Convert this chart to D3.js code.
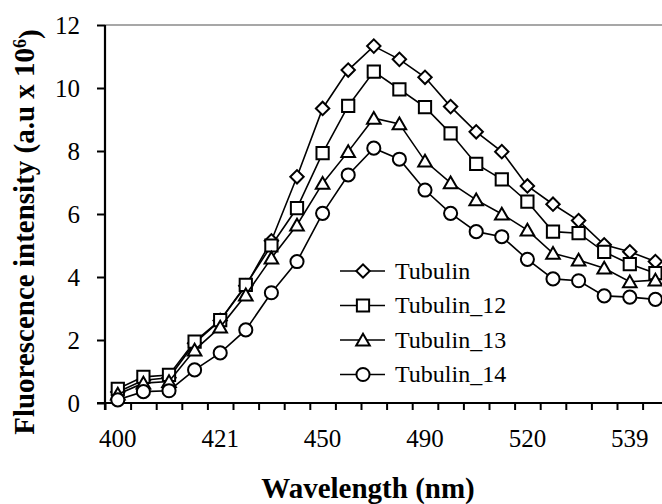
<!DOCTYPE html>
<html>
<head>
<meta charset="utf-8">
<style>
    body { margin: 0; background: #fff; }
    svg { display: block; }
    text { font-family: "Liberation Serif", "Times New Roman", serif; fill: #000; }
</style>
</head>
<body>

<script src="https://d3js.org/d3.v7.min.js"></script>
<script>

    // wavelengths (nm); only every 4th one is labelled on the axis
    var wavelengths = [400, 405, 411, 416, 421, 428, 435, 443, 450, 460, 470, 480,
                       490, 498, 505, 513, 520, 525, 530, 535, 539, 544];
    var labelEvery = 4;

    var tubulin   = [0.35, 0.72, 0.80, 1.90, 2.62, 3.72, 5.15, 7.18, 9.35, 10.57, 11.33, 10.91,
                     10.34, 9.41, 8.61, 7.98, 6.89, 6.31, 5.79, 5.02, 4.80, 4.49];
    var tubulin12 = [0.45, 0.83, 0.89, 1.95, 2.63, 3.75, 5.00, 6.19, 7.93, 9.43, 10.52, 9.96,
                     9.39, 8.56, 7.59, 7.10, 6.39, 5.44, 5.39, 4.80, 4.41, 4.12];
    var tubulin13 = [0.28, 0.63, 0.68, 1.68, 2.41, 3.43, 4.60, 5.65, 6.97, 7.98, 9.04, 8.86,
                     7.68, 6.99, 6.45, 6.00, 5.49, 4.75, 4.54, 4.28, 3.85, 3.90];
    var tubulin14 = [0.10, 0.36, 0.39, 1.05, 1.59, 2.32, 3.50, 4.49, 6.02, 7.24, 8.09, 7.74,
                     6.76, 6.02, 5.44, 5.28, 4.56, 3.94, 3.88, 3.40, 3.36, 3.29];

    var seriesNames = ["Tubulin", "Tubulin_12", "Tubulin_13", "Tubulin_14"];
    var yTicks = [0, 2, 4, 6, 8, 10, 12];

    var series = [
        {name: seriesNames[0], values: tubulin,   shape: "diamond"},
        {name: seriesNames[1], values: tubulin12, shape: "square"},
        {name: seriesNames[2], values: tubulin13, shape: "triangle"},
        {name: seriesNames[3], values: tubulin14, shape: "circle"}
    ];

    var width = 662,
        height = 504;

    var plotLeft = 105, plotTop = 25, plotBottom = 403,
        step = 25.6,
        n = wavelengths.length;

    var svg = d3.select("body").append("svg").attr("width", width).attr("height", height);

    var x = d3.scaleBand().domain(wavelengths).range([plotLeft, plotLeft + n * step]).paddingInner(0).paddingOuter(0);
    var xEdge = d3.scaleLinear().domain([0, n]).range([plotLeft, plotLeft + n * step]);
    var y = d3.scaleLinear().domain([0, 12]).range([plotBottom, plotTop]);

    function cx(i) { return x(wavelengths[i]) + x.bandwidth() / 2; }

    // top border of plot area
    svg.append("line")
        .attr("x1", plotLeft).attr("x2", width)
        .attr("y1", y(12)).attr("y2", y(12))
        .attr("stroke", "#8a8a8a").attr("stroke-width", 1.5);

    // x axis: ticks between categories
    var gx = svg.append("g").attr("transform", "translate(0," + plotBottom + ")")
        .call(d3.axisBottom(xEdge).tickValues(d3.range(n + 1)).tickSize(7).tickFormat(""));
    gx.select(".domain").remove();
    gx.selectAll(".tick line").attr("stroke", "#000").attr("stroke-width", 2);
    gx.append("line").attr("x1", 97).attr("x2", width).attr("stroke", "#000").attr("stroke-width", 2.2);

    var gxl = svg.append("g").attr("transform", "translate(0," + plotBottom + ")")
        .call(d3.axisBottom(x).tickSize(0).tickPadding(26)
            .tickFormat(function (d, i) { return i % labelEvery === 0 ? d : ""; }));
    gxl.select(".domain").remove();
    gxl.selectAll("text").style("font-family", "'Liberation Serif', 'Times New Roman', serif")
        .style("font-size", "25px").attr("fill", "#000");

    // y axis
    var gy = svg.append("g").attr("transform", "translate(" + plotLeft + ",0)")
        .call(d3.axisLeft(y).tickValues(yTicks).tickSize(8).tickPadding(17));
    gy.select(".domain").remove();
    gy.append("line").attr("y1", y(12)).attr("y2", plotBottom + 7).attr("stroke", "#000").attr("stroke-width", 2.2);
    gy.selectAll(".tick line").attr("stroke", "#000").attr("stroke-width", 2);
    gy.selectAll("text").style("font-family", "'Liberation Serif', 'Times New Roman', serif")
        .style("font-size", "25px").attr("fill", "#000");

    // markers
    var symbols = {
        diamond:  {type: d3.symbolSquare,   size: 90,  rotate: 45},
        square:   {type: d3.symbolSquare,   size: 150, rotate: 0},
        triangle: {type: d3.symbolTriangle, size: 80,  rotate: 0},
        circle:   {type: d3.symbolCircle,   size: 135, rotate: 0}
    };

    function drawMarker(g, shape, px, py) {
        var s = symbols[shape];
        var dy = shape === "triangle" ? 1.5 : 0;
        g.append("path")
            .attr("d", d3.symbol().type(s.type).size(s.size)())
            .attr("transform", "translate(" + px + "," + (py + dy) + ") rotate(" + s.rotate + ")")
            .attr("fill", "#fff")
            .attr("stroke", "#000")
            .attr("stroke-width", 2);
    }

    var line = d3.line()
        .x(function (d, i) { return cx(i); })
        .y(function (d) { return y(d); });

    var plot = svg.append("g");

    series.forEach(function (s) {
        var g = plot.append("g");
        g.append("path")
            .attr("d", line(s.values))
            .attr("fill", "none")
            .attr("stroke", "#000")
            .attr("stroke-width", 1.6);
        s.values.forEach(function (v, i) {
            drawMarker(g, s.shape, cx(i), y(v));
        });
    });

    // legend
    var legend = svg.append("g");
    series.forEach(function (s, i) {
        var ly = 271 + i * 34.5;
        legend.append("line")
            .attr("x1", 340).attr("x2", 385)
            .attr("y1", ly).attr("y2", ly)
            .attr("stroke", "#000").attr("stroke-width", 1.6);
        drawMarker(legend, s.shape, 363, ly);
        legend.append("text")
            .attr("x", 395).attr("y", ly)
            .attr("dy", "0.33em")
            .style("font-size", "24px")
            .text(s.name);
    });

    // axis titles
    svg.append("text")
        .attr("x", 368).attr("y", 498)
        .attr("text-anchor", "middle")
        .style("font-size", "29px").style("font-weight", "bold")
        .text("Wavelength (nm)");

    var yt = svg.append("text")
        .attr("transform", "translate(34,232) rotate(-90)")
        .attr("text-anchor", "middle")
        .style("font-size", "29px").style("font-weight", "bold");
    yt.append("tspan").text("Fluorescence intensity (a.u x 10");
    yt.append("tspan").attr("dy", "-0.45em").style("font-size", "18px").text("6");
    yt.append("tspan").attr("dy", "0.45em").text(")");

</script>
</body>
</html>
